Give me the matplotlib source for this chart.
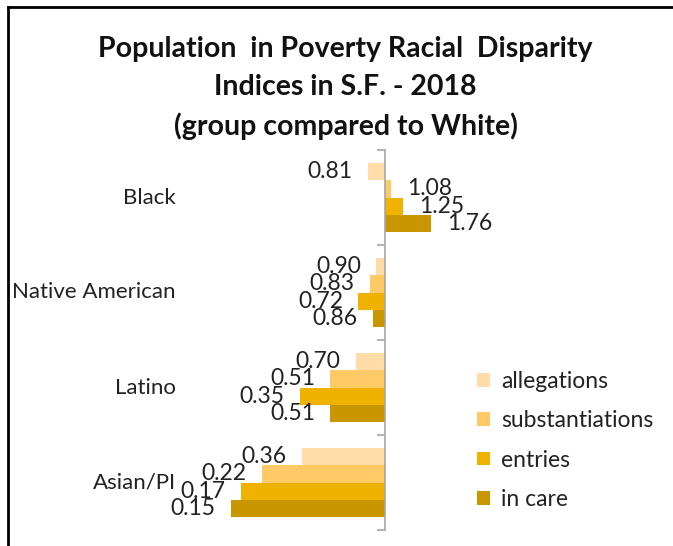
import matplotlib
matplotlib.use('Agg')
from matplotlib import pyplot as plt
from matplotlib.lines import Line2D

# groups (top to bottom) and the four measures
groups = ['Black', 'Native American', 'Latino', 'Asian/PI']
series = ['allegations', 'substantiations', 'entries', 'in care']
allegations = [0.81, 0.90, 0.70, 0.36]
substantiations = [1.08, 0.83, 0.51, 0.22]
entries = [1.25, 0.72, 0.35, 0.17]
in_care = [1.76, 0.86, 0.51, 0.15]
values = [allegations, substantiations, entries, in_care]
colors = ['#FFDCA8', '#FFC966', '#F0B200', '#C99600']

plt.rcParams['font.family'] = ['Lato', 'DejaVu Sans']

fig = plt.figure(figsize=(6.73, 5.46), dpi=100)
W, H = 673, 546
ax = fig.add_axes([197.6 / W, (H - 530) / H, 374.8 / W, 380 / H])
ax.set_xscale('log')
ax.set_xlim(0.1, 10)
ax.set_ylim(3.5, -0.5)

fs = 16.5
bar_h = 0.18
offsets = [-0.27, -0.09, 0.09, 0.27]
for vals, off, col, name in zip(values, offsets, colors, series):
    ys = [i + off for i in range(len(groups))]
    ax.barh(ys, [v - 1 for v in vals], left=1, height=bar_h, color=col,
            label=name, edgecolor='none')
    for y, v in zip(ys, vals):
        if v < 1:
            ax.annotate(f'{v:.2f}', (v, y), xytext=(-11, 0),
                        textcoords='offset points', ha='right', va='center',
                        fontsize=fs, color='#222222')
        else:
            ax.annotate(f'{v:.2f}', (v, y), xytext=(11.5, 0),
                        textcoords='offset points', ha='left', va='center',
                        fontsize=fs, color='#222222')

# category labels at left of plot area
for i, g in enumerate(groups):
    ax.text(-0.058, i, g, transform=ax.get_yaxis_transform(), ha='right',
            va='center', fontsize=16, color='#222222')

# vertical axis at 1
for s in ['top', 'right', 'bottom']:
    ax.spines[s].set_visible(False)
ax.spines['left'].set_position(('data', 1))
ax.spines['left'].set_color('#A6A6A6')
ax.spines['left'].set_linewidth(1.2)
ax.set_yticks([-0.5, 0.5, 1.5, 2.5, 3.5])
ax.set_yticklabels([])
ax.tick_params(axis='y', length=6, color='#A6A6A6', width=1.2, direction='out')
ax.set_xticks([])
ax.minorticks_off()
ax.tick_params(axis='x', which='both', bottom=False, labelbottom=False)

fig.text(345.5 / W, 1 - 88 / H,
         'Population  in Poverty Racial  Disparity\nIndices in S.F. - 2018\n(group compared to White)',
         ha='center', va='center', fontsize=20.5, fontweight='bold',
         linespacing=1.55, color='#111111')

leg = fig.legend(loc='upper left', bbox_to_anchor=(477 / W, 1 - 371 / H),
                 frameon=False, fontsize=fs, handlelength=0.55,
                 handleheight=0.55, handletextpad=0.5, labelspacing=0.8,
                 borderpad=0, borderaxespad=0)
for t in leg.get_texts():
    t.set_color('#222222')

# frame lines of the original screenshot
fig.add_artist(Line2D([8 / W, 1], [1 - 7 / H, 1 - 7 / H], color='black', lw=2))
fig.add_artist(Line2D([8 / W, 8 / W], [0, 1 - 7 / H], color='black', lw=2))

fig.savefig('out.png', dpi=100)
